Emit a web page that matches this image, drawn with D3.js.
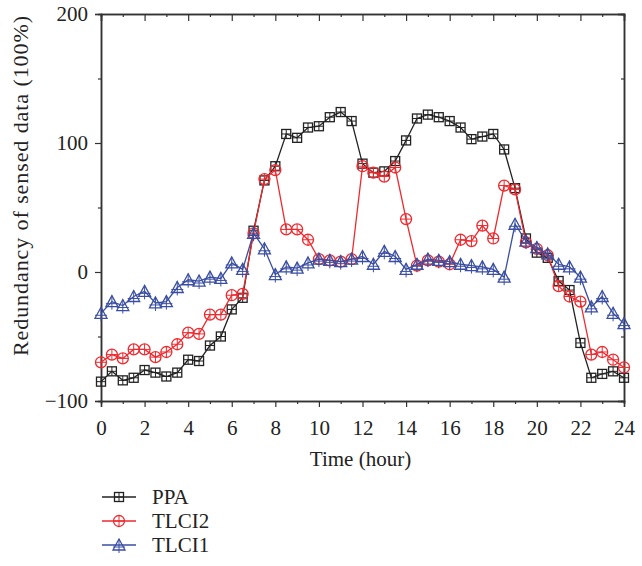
<!DOCTYPE html>
<html>
<head>
<meta charset="utf-8">
<script src="https://cdn.jsdelivr.net/npm/d3@7"></script>
<style>
  html, body { margin: 0; padding: 0; background: #fff; }
  svg text { font-family: "Liberation Serif", "Times New Roman", serif; fill: #222; }
</style>
</head>
<body>
<svg id="chart" width="642" height="566"></svg>
<script>
// Hours sampled every half hour
const hours = d3.range(0, 24.01, 0.5);

const ppa = [-85, -77, -84, -82, -76, -78, -81, -78, -68, -69, -57, -50, -29, -20,
  32, 71, 82, 107, 104, 112, 113, 120, 124, 117, 84, 77, 78, 86, 102, 119, 122, 120,
  117, 112, 103, 105, 107, 95, 65, 26, 15, 11, -7, -14, -55, -82, -79, -77, -82];

const tlci2 = [-70, -64, -67, -60, -60, -66, -62, -56, -47, -48, -33, -33, -18, -17,
  30, 72, 79, 33, 33, 25, 10, 9, 8, 10, 82, 77, 74, 81, 41, 5, 9, 8,
  6, 25, 24, 36, 26, 67, 64, 23, 18, 13, -11, -19, -23, -64, -62, -68, -74];

const tlci1 = [-32, -23, -26, -19, -15, -24, -23, -12, -6, -7, -4, -5, 7, 2,
  30, 18, -2, 4, 3, 7, 10, 9, 8, 10, 12, 6, 16, 12, 2, 6, 10, 9,
  8, 6, 5, 4, 2, -4, 37, 24, 19, 14, 6, 4, -4, -27, -19, -32, -40];

const xTicks = d3.range(0, 25, 2);
const yTicks = [-100, 0, 100, 200];

const seriesNames = ["PPA", "TLCI2", "TLCI1"];
const seriesColors = ["#222222", "#ee2a2f", "#3a4ea2"];
const seriesShapes = ["square", "circle", "triangle"];

const series = [ppa, tlci2, tlci1].map((vals, i) => ({
  name: seriesNames[i], color: seriesColors[i], shape: seriesShapes[i],
  points: vals.map((v, j) => ({ x: hours[j], y: v }))
}));

const svg = d3.select("#chart");
const plotL = 101, plotR = 624, plotT = 14, plotB = 401;
const fontSize = 21;

const x = d3.scaleLinear().domain([0, 24]).range([plotL, plotR]);
const y = d3.scaleLinear().domain([-100, 200]).range([plotB, plotT]);

const axisColor = "#333";

// Bottom axis: major ticks with labels, minor ticks each hour
const gx = svg.append("g").attr("transform", `translate(0,${plotB})`);
gx.call(d3.axisBottom(x).tickValues(xTicks).tickSize(6).tickPadding(13).tickFormat(d3.format("d")));
gx.append("g").call(d3.axisBottom(x).tickValues(d3.range(1, 24, 2)).tickSize(3).tickFormat(""));

// Top axis: inward ticks
const gt = svg.append("g").attr("transform", `translate(0,${plotT})`);
gt.call(d3.axisBottom(x).tickValues(xTicks).tickSize(7).tickFormat(""));
gt.append("g").call(d3.axisBottom(x).tickValues(d3.range(1, 24, 2)).tickSize(3).tickFormat(""));

// Left axis
const gy = svg.append("g").attr("transform", `translate(${plotL},0)`);
gy.call(d3.axisLeft(y).tickValues(yTicks).tickSize(6).tickPadding(7).tickFormat(d => d < 0 ? "\u2212" + Math.abs(d) : d));
gy.append("g").call(d3.axisLeft(y).tickValues([-50, 50, 150]).tickSize(3).tickFormat(""));

// Right axis: inward ticks
const gr = svg.append("g").attr("transform", `translate(${plotR},0)`);
gr.call(d3.axisLeft(y).tickValues(yTicks).tickSize(6).tickFormat(""));
gr.append("g").call(d3.axisLeft(y).tickValues([-50, 50, 150]).tickSize(3).tickFormat(""));

svg.selectAll(".domain").attr("stroke", axisColor).attr("stroke-width", 1.5);
svg.selectAll(".tick line").attr("stroke", axisColor).attr("stroke-width", 1.2);
svg.selectAll(".tick text").attr("font-size", fontSize).attr("font-family", "Liberation Serif").attr("fill", "#222");

// Axis titles
svg.append("text").attr("x", (plotL + plotR) / 2 - 2).attr("y", 466)
  .attr("text-anchor", "middle").attr("font-size", fontSize).text("Time (hour)");
svg.append("text").attr("transform", `translate(28,186) rotate(-90)`)
  .attr("text-anchor", "middle").attr("font-size", 22)
  .attr("textLength", 340).attr("lengthAdjust", "spacing")
  .text("Redundancy of sensed data (100%)");

// Marker drawing
function drawMarker(g, shape, color) {
  if (shape === "square") {
    g.append("rect").attr("x", -4.5).attr("y", -4.5).attr("width", 9).attr("height", 9)
      .attr("fill", "none").attr("stroke", color).attr("stroke-width", 1.3);
    g.append("path").attr("d", "M0,-4.5V4.5M-4.5,0H4.5").attr("stroke", color).attr("stroke-width", 1);
  } else if (shape === "circle") {
    g.append("circle").attr("r", 5.5).attr("fill", "none").attr("stroke", color).attr("stroke-width", 1.3);
    g.append("path").attr("d", "M0,-5.5V5.5M-5.5,0H5.5").attr("stroke", color).attr("stroke-width", 1);
  } else {
    g.append("path").attr("d", "M0,-6L6,5H-6Z").attr("fill", "none").attr("stroke", color).attr("stroke-width", 1.3);
    g.append("path").attr("d", "M0,-6V8M-6,2H6").attr("stroke", color).attr("stroke-width", 1);
  }
}

const line = d3.line().x(d => x(d.x)).y(d => y(d.y));

series.forEach(s => {
  const g = svg.append("g");
  g.append("path").datum(s.points).attr("d", line)
    .attr("fill", "none").attr("stroke", s.color).attr("stroke-width", 1.3);
  g.selectAll("g.m").data(s.points).join("g").attr("class", "m")
    .attr("transform", d => `translate(${x(d.x)},${y(d.y)})`)
    .each(function () { drawMarker(d3.select(this), s.shape, s.color); });
});

// Legend
const legend = svg.append("g").attr("transform", "translate(102,497)");
series.forEach((s, i) => {
  const row = legend.append("g").attr("transform", `translate(0,${i * 24})`);
  row.append("line").attr("x1", 0).attr("x2", 34).attr("stroke", s.color).attr("stroke-width", 1.3);
  const m = row.append("g").attr("transform", "translate(17,0)");
  drawMarker(m, s.shape, s.color);
  row.append("text").attr("x", 50).attr("y", 7).attr("font-size", fontSize).text(s.name);
});
</script>
</body>
</html>
